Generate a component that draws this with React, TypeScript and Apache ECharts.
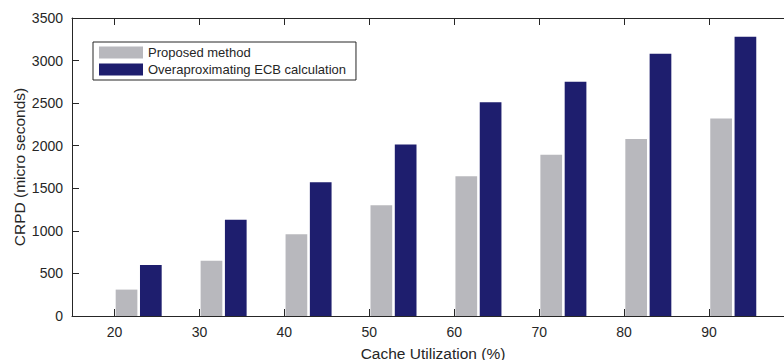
import React, { useEffect, useRef } from "react";
import * as echarts from "echarts";

const categories = [20, 30, 40, 50, 60, 70, 80, 90];
const proposed = [310, 650, 960, 1300, 1640, 1895, 2080, 2320];
const overapprox = [600, 1130, 1570, 2015, 2510, 2750, 3080, 3280];
const yTicks = [0, 500, 1000, 1500, 2000, 2500, 3000, 3500];

const seriesNames = ["Proposed method", "Overaproximating ECB calculation"];
const X_MIN = 15;
const X_MAX = 100;
const BAR_SHIFT = 2.85; // bar groups sit to the right of each tick

const FONT = "'Liberation Sans', Arial, Helvetica, sans-serif";
const TEXT = "#262626";
const GRAY = "#b8b8bd";
const NAVY = "#1e1e6e";

export default function App() {
  const ref = useRef<HTMLDivElement>(null);
  useEffect(() => {
    if (!ref.current) return;
    const chart = echarts.init(ref.current, undefined, { renderer: "svg" });
    const tickStyle = { show: true, inside: true, length: 7, lineStyle: { color: TEXT, width: 1 } };
    chart.setOption({
      animation: false,
      backgroundColor: "#ffffff",
      textStyle: { fontFamily: FONT },
      grid: {
        left: 72,
        top: 18,
        bottom: 44,
        right: -10,
        containLabel: false,
        outerBoundsMode: "none",
      },
      legend: {
        left: 93,
        top: 42,
        orient: "vertical",
        itemWidth: 44,
        itemHeight: 12,
        itemGap: 4,
        padding: [4, 10, 4, 6],
        backgroundColor: "#ffffff",
        borderColor: TEXT,
        borderWidth: 1,
        borderRadius: 0,
        icon: "rect",
        textStyle: { fontSize: 13, color: TEXT, fontFamily: FONT },
        data: seriesNames,
      },
      xAxis: [
        {
          type: "value",
          position: "bottom",
          min: X_MIN,
          max: X_MAX,
          name: "Cache Utilization (%)",
          nameLocation: "middle",
          nameGap: 29,
          nameMoveOverlap: false,
          nameTextStyle: { fontSize: 15.5, color: TEXT, fontFamily: FONT },
          axisLine: { show: true, lineStyle: { color: TEXT, width: 1 } },
          axisTick: { ...tickStyle, customValues: categories },
          axisLabel: { customValues: categories, fontSize: 14, color: TEXT, margin: 9, fontFamily: FONT },
          splitLine: { show: false },
        },
        {
          type: "value",
          position: "top",
          min: X_MIN,
          max: X_MAX,
          axisLine: { show: true, lineStyle: { color: TEXT, width: 1 } },
          axisTick: { ...tickStyle, customValues: categories },
          axisLabel: { show: false, customValues: categories },
          splitLine: { show: false },
        },
        {
          type: "value",
          show: false,
          position: "bottom",
          min: X_MIN - BAR_SHIFT,
          max: X_MAX - BAR_SHIFT,
          splitLine: { show: false },
        },
      ],
      yAxis: {
        type: "value",
        min: 0,
        max: 3500,
        interval: 500,
        name: "CRPD (micro seconds)",
        nameLocation: "middle",
        nameGap: 45,
        nameMoveOverlap: false,
        nameTextStyle: { fontSize: 15.5, color: TEXT, fontFamily: FONT },
        axisLine: { show: true, lineStyle: { color: TEXT, width: 1 } },
        axisTick: tickStyle,
        axisLabel: {
          fontSize: 14,
          color: TEXT,
          margin: 9,
          fontFamily: FONT,
          formatter: (v: number) => (yTicks.includes(v) ? String(v) : ""),
        },
        splitLine: { show: false },
      },
      series: [
        {
          name: seriesNames[0],
          type: "bar",
          xAxisIndex: 2,
          barWidth: 21.7,
          barGap: "12%",
          itemStyle: { color: GRAY },
          data: categories.map((c, i) => [c, proposed[i]]),
        },
        {
          name: seriesNames[1],
          type: "bar",
          xAxisIndex: 2,
          barWidth: 21.7,
          barGap: "12%",
          itemStyle: { color: NAVY },
          data: categories.map((c, i) => [c, overapprox[i]]),
        },
      ],
    });
    return () => chart.dispose();
  }, []);
  return (
    <div
      ref={ref}
      style={{ position: "fixed", left: 0, top: 0, width: 784, height: 360, background: "#fff" }}
    />
  );
}
